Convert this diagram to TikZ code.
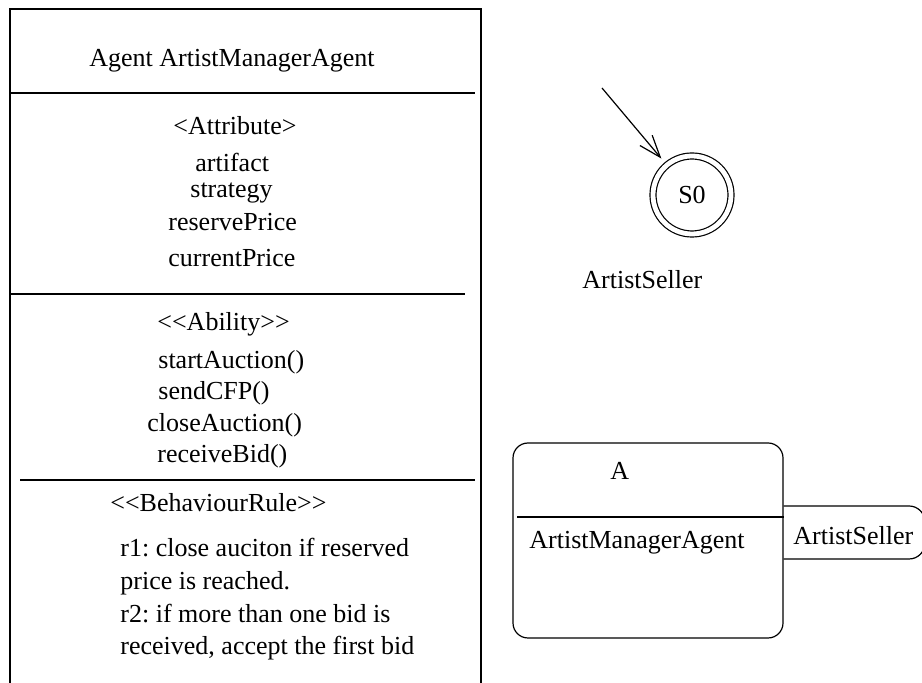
\documentclass[tikz,border=0pt]{standalone}
\usepackage{fontspec}
\setmainfont{Liberation Serif}
\usetikzlibrary{arrows.meta,positioning}
\frenchspacing

\begin{document}
\begin{tikzpicture}[x=0.5pt,y=-0.5pt,
  txt/.style={inner sep=0pt,anchor=base west,font=\fontsize{13}{16.35}\selectfont},
  ln/.style={line width=0.6pt},
  arr/.style={ln,-{Straight Barb[length=11pt,width=8pt,line width=0.6pt]},shorten >=4pt},
  state/.style={circle,draw,ln,double,double distance=2.4pt,minimum size=39pt,inner sep=0pt,font=\fontsize{13}{16}\selectfont}]
\clip (0,0) rectangle (922,683);
% agent class box
\draw[ln] (10,683) -- (10,9) -- (481,9) -- (481,683);
\draw[ln] (10,93) -- (475,93);
\draw[ln] (10,294) -- (465,294);
\draw[ln] (20,480) -- (475,480);
\node[txt] (head) at (89,67) {Agent ArtistManagerAgent};
\node[txt] (attr) at (173,135) {<Attribute>};
\node[txt] (artifact) at (195,172) {artifact};
\node[txt] (strategy) at (190,198) {strategy};
\node[txt] (reserve) at (168,231) {reservePrice};
\node[txt] (current) at (168,267) {currentPrice};
\node[txt] (abil) at (157,331) {<{}<Ability>{}>};
\node[txt] (start) at (158,369) {startAuction()};
\node[txt] (cfp) at (158,400) {sendCFP()};
\node[txt] (close) at (147,432) {closeAuction()};
\node[txt] (bid) at (157,463) {receiveBid()};
\node[txt] (rule) at (110,512) {<{}<BehaviourRule>{}>};
\node[txt,align=left,anchor=north west] (rules) at (120,538) {r1: close auciton if reserved\\price is reached.\\r2: if more than one bid is\\received, accept the first bid};
% state machine
\node[state] (s0) at (692,195) {S0};
\coordinate (init) at (602,88);
\draw[arr] (init) -- (s0);
\node[txt] (seller) at (582,289) {ArtistSeller};
% role box
\node[draw,ln,rounded corners=7.5pt,minimum width=135pt,minimum height=97.5pt,inner sep=0pt] (role) at (648,540.5) {};
\draw[ln] (517,517) -- (role.east |- 0,517);
\node[txt] (rolename) at (610,480) {A};
\node[txt] (roleagent) at (529,549) {ArtistManagerAgent};
\draw[ln,rounded corners=8pt] (role.east |- 0,506) -- (925,506) -- (925,559) -- (role.east |- 0,559);
\node[txt] (tab) at (793,545) {ArtistSeller};
\end{tikzpicture}
\end{document}
